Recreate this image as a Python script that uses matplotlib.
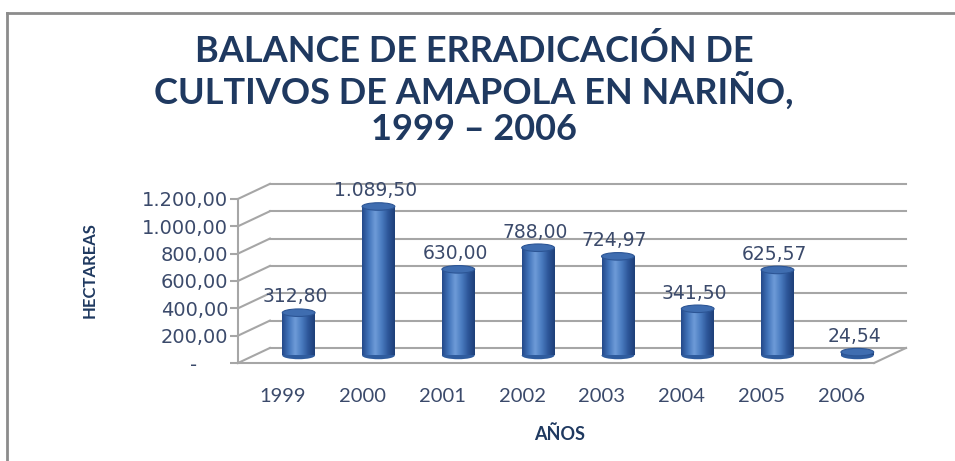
import matplotlib
matplotlib.use('Agg')
import matplotlib.pyplot as plt
import numpy as np
from matplotlib.patches import Ellipse
from matplotlib.colors import LinearSegmentedColormap
from matplotlib.lines import Line2D

# datos
years = ['1999', '2000', '2001', '2002', '2003', '2004', '2005', '2006']
hectareas = [312.80, 1089.50, 630.00, 788.00, 724.97, 341.50, 625.57, 24.54]
yticks = [0, 200, 400, 600, 800, 1000, 1200]


def fmt_es(v):
    if v == 0:
        return '-' + '\u00a0' * 5
    s = f"{v:,.2f}"
    return s.replace(',', 'X').replace('.', ',').replace('X', '.')


title_col = '#1F3960'
text_col = '#3B4A6B'
grid_col = '#A6A6A6'

fig = plt.figure(figsize=(9.55, 4.61), dpi=100)
W, H = 955, 461

# falso 3D: desplazamiento de profundidad
X0 = -0.56
XR = 7.41
DX = 0.40
DY = 110

ax = fig.add_axes([238 / W, 98 / H, 668 / W, 182 / H])
ax.set_xlim(X0, XR + DX)
ax.set_ylim(0, 1331)
ax.patch.set_alpha(0)
for sp in ['top', 'right', 'bottom']:
    ax.spines[sp].set_visible(False)
ax.spines['left'].set_bounds(0, 1200)
ax.spines['left'].set_color(grid_col)
ax.spines['left'].set_linewidth(1.5)

# paredes y piso
for v in yticks:
    ax.plot([X0 + DX, XR + DX], [v + DY, v + DY], color=grid_col, lw=1.5, zorder=1, clip_on=False)
    ax.plot([X0, X0 + DX], [v, v + DY], color=grid_col, lw=1.5, zorder=1, clip_on=False)
ax.plot([X0, XR], [0, 0], color=grid_col, lw=1.5, zorder=1, clip_on=False)
ax.plot([XR, XR + DX], [0, DY], color=grid_col, lw=1.5, zorder=1, clip_on=False)

ax.set_yticks(yticks)
ax.set_yticklabels([fmt_es(v) for v in yticks], fontsize=14, color=text_col, family='DejaVu Sans')
ax.tick_params(axis='y', length=6, width=1.5, color=grid_col, pad=1)

ax.set_xticks(range(len(years)))
ax.set_xticklabels(years, fontsize=14.5, color=text_col, family='Lato')
ax.tick_params(axis='x', length=0, pad=18)

# cilindros
cmap = LinearSegmentedColormap.from_list('cyl', ['#24498A', '#4274BA', '#6E9BD8', '#4A7CC0', '#2D5699', '#1E3F78'])
grad = np.linspace(0, 1, 64).reshape(1, -1)
xs = np.arange(len(years)) + DX / 2
bw = 0.41
eh = 55
bars = ax.bar(xs, hectareas, width=bw, bottom=DY / 2, color='#3E6EB3', zorder=3)
for b, x, v in zip(bars, xs, hectareas):
    x0 = b.get_x()
    y0 = b.get_y()
    bot = Ellipse((x, y0), bw, eh, facecolor='#2F5C9E', edgecolor='none', zorder=2.9)
    ax.add_patch(bot)
    im = ax.imshow(grad, cmap=cmap, aspect='auto', extent=(x0, x0 + bw, y0, y0 + v),
                   zorder=3.1, interpolation='bicubic')
    im.set_clip_path(b)
    top = Ellipse((x, y0 + v), bw, eh, facecolor='#3F6DB0', edgecolor='#2C5595', lw=0.8, zorder=3.2)
    ax.add_patch(top)
    ax.text(x - 0.04, y0 + v + 115, fmt_es(v), ha='center', va='center', fontsize=13.5,
            color=text_col, family='DejaVu Sans', zorder=4, clip_on=False)

# textos
fig.text(474 / W, 1 - 90 / H,
         'BALANCE DE ERRADICACIÓN DE\nCULTIVOS DE AMAPOLA EN NARIÑO,\n1999 – 2006',
         ha='center', va='center', fontsize=26, fontweight='bold', color=title_col,
         family='Lato', linespacing=1.1)
fig.text(90 / W, 1 - 270 / H, 'HECTAREAS', rotation=90, ha='center', va='center',
         fontsize=12, fontweight='bold', color=title_col, family='Lato')
fig.text(560 / W, 1 - 434 / H, 'AÑOS', ha='center', va='center',
         fontsize=13, fontweight='bold', color=title_col, family='Lato')

# marco
fig.add_artist(Line2D([7 / W, 7 / W], [0, 1 - 13 / H], color='#8C8C8C', lw=2, transform=fig.transFigure))
fig.add_artist(Line2D([7 / W, 1], [1 - 13 / H, 1 - 13 / H], color='#8C8C8C', lw=2, transform=fig.transFigure))

fig.savefig('out.png', dpi=100)
